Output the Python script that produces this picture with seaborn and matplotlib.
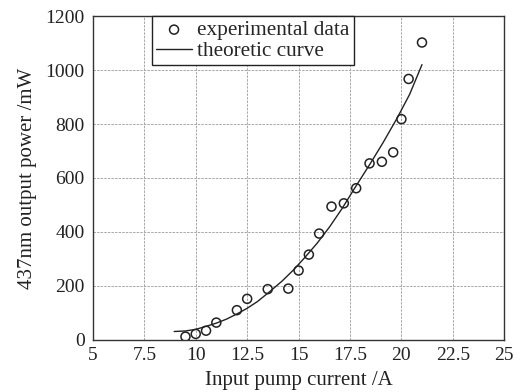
import matplotlib
matplotlib.use("Agg")
import matplotlib.pyplot as plt
import seaborn as sns
import pandas as pd

# experimental points
current_exp = [9.5, 10.0, 10.5, 11.0, 12.0, 12.5, 13.5, 14.5, 15.0, 15.5,
               16.0, 16.6, 17.2, 17.8, 18.45, 19.05, 19.6, 20.0, 20.35, 21.0]
power_exp = [12, 22, 34, 64, 110, 152, 188, 190, 257, 316,
             394, 494, 506, 562, 654, 660, 695, 818, 967, 1102]

# theoretic curve
current_fit = [8.95, 9.5, 10.0, 10.5, 11.0, 11.5, 12.0, 12.5, 13.0, 13.6, 14.2,
               14.75, 15.3, 15.9, 16.5, 17.1, 17.75, 18.5, 19.1, 19.8, 20.4, 21.0]
power_fit = [31, 33, 39, 50, 62, 77, 96, 117, 142, 179, 218,
             259, 305, 358, 418, 485, 565, 655, 730, 823, 910, 1020]

x_ticks = [5, 7.5, 10, 12.5, 15, 17.5, 20, 22.5, 25]
x_tick_labels = ["5", "7.5", "10", "12.5", "15", "17.5", "20", "22.5", "25"]
y_ticks = [0, 200, 400, 600, 800, 1000, 1200]

exp_df = pd.DataFrame({"current": current_exp, "power": power_exp})
fit_df = pd.DataFrame({"current": current_fit, "power": power_fit})

sns.set_style("whitegrid", {
    "grid.color": "#a8a8a8",
    "grid.linestyle": (0, (2.5, 1.2)),
    "axes.edgecolor": "black",
})
plt.rcParams["font.family"] = ["Liberation Serif", "DejaVu Serif"]

fig = plt.figure(figsize=(5.22, 3.92), dpi=100)
ax = fig.add_axes([0.178, 0.133, 0.788, 0.826])

sns.scatterplot(data=exp_df, x="current", y="power", ax=ax,
                marker="o", s=42, facecolor="none", edgecolor="#222222",
                linewidth=1.1, label="experimental data", zorder=3)
sns.lineplot(data=fit_df, x="current", y="power", ax=ax,
             color="#222222", linewidth=1.0, label="theoretic curve",
             sort=True, estimator=None, zorder=2)

ax.set_xlim(5, 25)
ax.set_ylim(0, 1200)
ax.set_xticks(x_ticks)
ax.set_xticklabels(x_tick_labels)
ax.set_yticks(y_ticks)
ax.tick_params(axis="both", length=0, labelsize=14, colors="#222222")
ax.tick_params(axis="x", pad=5)
ax.tick_params(axis="y", pad=6)
ax.grid(True, linewidth=0.7)
for sp in ax.spines.values():
    sp.set_linewidth(1.0)
    sp.set_color("#333333")

ax.set_xlabel("Input pump current /A", fontsize=15, color="#222222", labelpad=5)
ax.set_ylabel("437nm output power /mW", fontsize=15, color="#222222", labelpad=6)

leg = ax.legend(loc="upper left", bbox_to_anchor=(0.143, 1.0), fontsize=15.3,
                frameon=True, fancybox=False, borderpad=0.2, labelspacing=0.05,
                handlelength=1.7, handletextpad=0.25, borderaxespad=0.0)
leg.get_frame().set_edgecolor("#222222")
leg.get_frame().set_linewidth(1.0)
leg.get_frame().set_alpha(1.0)

fig.savefig("out.png", dpi=100)
